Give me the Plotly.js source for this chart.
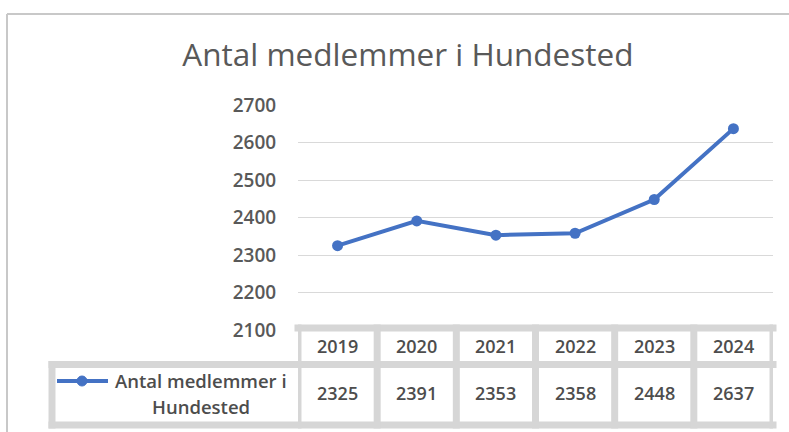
<!DOCTYPE html>
<html>
<head>
<meta charset="utf-8">
<script src="https://cdn.plot.ly/plotly-3.0.1.min.js"></script>
<style>html,body{margin:0;padding:0;background:#fff;}#chart{width:789px;height:432px;}</style>
</head>
<body>
<div id="chart"></div>
<script>
var years = ['2019', '2020', '2021', '2022', '2023', '2024'];
var members = [2325, 2391, 2353, 2358, 2448, 2637];
var seriesName = 'Antal medlemmer i Hundested';
var legendLines = ['Antal medlemmer i', 'Hundested'];

var W = 789, H = 432;
var L = 298, R = 773, T = 105, B = 330;
function px(x) { return (x - L) / (R - L); }
function py(y) { return (B - y) / (B - T); }

var FONT = '"Open Sans", Lato, sans-serif';
var border = '#d6d6d6';
var blue = '#4472C4';
var txt = '#4d4d4d';

var shapes = [];
var annotations = [];
var bw = 7;
// chart outer border
shapes.push({type:'line', xref:'paper', yref:'paper', x0:px(7), x1:px(800), y0:py(14), y1:py(14), line:{color:'#c8c8c8', width:2}});
shapes.push({type:'line', xref:'paper', yref:'paper', x0:px(7), x1:px(7), y0:py(14), y1:py(440), line:{color:'#c8c8c8', width:2}});

// table borders
shapes.push({type:'line', xref:'paper', yref:'paper', x0:px(L - 3.5), x1:px(R + 3.5), y0:py(328), y1:py(328), line:{color:border, width:bw}});
shapes.push({type:'line', xref:'paper', yref:'paper', x0:px(48.5), x1:px(R + 3.5), y0:py(364.5), y1:py(364.5), line:{color:border, width:bw}});
shapes.push({type:'line', xref:'paper', yref:'paper', x0:px(48.5), x1:px(R + 3.5), y0:py(425), y1:py(425), line:{color:border, width:bw}});
shapes.push({type:'line', xref:'paper', yref:'paper', x0:px(52), x1:px(52), y0:py(361), y1:py(428.5), line:{color:border, width:bw}});
for (var k = 0; k <= years.length; k++) {
  shapes.push({type:'line', xref:'x', yref:'paper', x0:k - 0.5, x1:k - 0.5, y0:py(324.5), y1:py(428.5), line:{color:border, width:bw}});
}
// legend key
shapes.push({type:'line', xref:'paper', yref:'paper', x0:px(57), x1:px(108), y0:py(381), y1:py(381), line:{color:blue, width:4}});
shapes.push({type:'circle', xref:'paper', yref:'paper', x0:px(77), x1:px(87), y0:py(376), y1:py(386), fillcolor:blue, line:{color:blue, width:1}});

var cellFont = {family:FONT, size:18, color:txt, weight:600};
years.forEach(function (yr, i) {
  annotations.push({xref:'x', yref:'paper', x:i, y:py(346), text:yr, showarrow:false, xanchor:'center', yanchor:'middle', font:cellFont});
  annotations.push({xref:'x', yref:'paper', x:i, y:py(393), text:String(members[i]), showarrow:false, xanchor:'center', yanchor:'middle', font:cellFont});
});
annotations.push({xref:'paper', yref:'paper', x:px(201), y:py(380), text:legendLines[0], showarrow:false, xanchor:'center', yanchor:'middle', font:{family:FONT, size:18.5, color:txt, weight:600}});
annotations.push({xref:'paper', yref:'paper', x:px(201), y:py(406), text:legendLines[1], showarrow:false, xanchor:'center', yanchor:'middle', font:{family:FONT, size:18.5, color:txt, weight:600}});

var trace = {
  x: years.map(function (d, i) { return i; }),
  y: members,
  name: seriesName,
  type: 'scatter',
  mode: 'lines+markers',
  line: {color: blue, width: 4},
  marker: {color: blue, size: 11},
  cliponaxis: false,
  hoverinfo: 'x+y'
};

var layout = {
  width: W, height: H,
  margin: {l: L, r: W - R, t: T, b: H - B},
  paper_bgcolor: '#fff', plot_bgcolor: '#fff',
  showlegend: false,
  title: {text: 'Antal medlemmer i Hundested', x: 0.517, xanchor: 'center', y: 1 - 55 / H, yanchor: 'middle',
          font: {family: FONT, size: 31.5, color: '#595959', weight: 400}},
  xaxis: {range: [-0.5, years.length - 0.5], showgrid: false, zeroline: false, showticklabels: false, showline: false, ticks: '', fixedrange: true},
  yaxis: {range: [2100, 2700], dtick: 100, tick0: 2100, showgrid: true, gridcolor: '#d9d9d9', gridwidth: 1, zeroline: false, showline: false,
          ticks: 'outside', ticklen: 17, tickcolor: 'rgba(0,0,0,0)',
          tickfont: {family: FONT, size: 19, color: '#595959', weight: 600}, fixedrange: true},
  shapes: shapes,
  annotations: annotations
};

Plotly.newPlot('chart', [trace], layout, {displayModeBar: false, staticPlot: true});
</script>
</body>
</html>
